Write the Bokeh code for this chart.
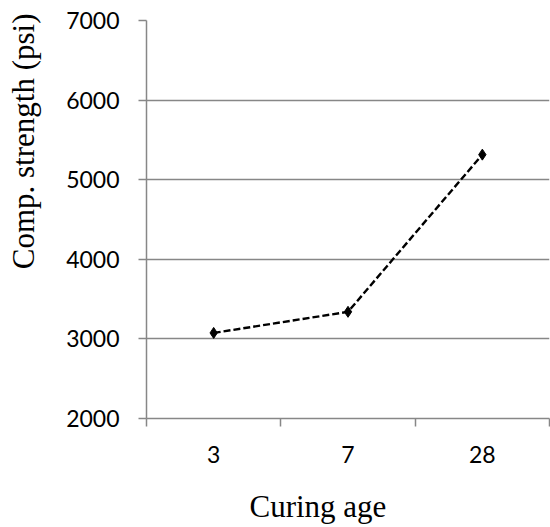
from bokeh.plotting import figure
from bokeh.models import Range1d, FixedTicker, Title
from bokeh.embed import file_html
from bokeh.resources import INLINE

categories = ["3", "7", "28"]
strength = [3075, 3340, 5315]
y_ticks = [2000, 3000, 4000, 5000, 6000, 7000]

xs = [i + 0.5 for i in range(len(categories))]

p = figure(width=550, height=527, output_backend="svg", toolbar_location=None,
           x_range=Range1d(0, len(categories)), y_range=Range1d(2000, 7000),
           min_border_left=146, min_border_right=1, min_border_top=20, min_border_bottom=109)
p.outline_line_color = None
p.background_fill_color = "white"
p.border_fill_color = "white"

grey = "#878787"
# x axis
p.xaxis.ticker = FixedTicker(ticks=xs, minor_ticks=list(range(len(categories) + 1)))
p.xaxis.major_label_overrides = {x: c for x, c in zip(xs, categories)}
p.xaxis.major_tick_line_color = None
p.xaxis.major_tick_out = 8
p.xaxis.major_tick_in = 0
p.xaxis.minor_tick_line_color = grey
p.xaxis.minor_tick_line_width = 1.5
p.xaxis.minor_tick_out = 8
p.xaxis.minor_tick_in = 0
p.xaxis.major_label_standoff = 19
# y axis
p.yaxis.ticker = FixedTicker(ticks=y_ticks, minor_ticks=[])
p.yaxis.major_tick_out = 8
p.yaxis.major_tick_in = 0
p.yaxis.major_tick_line_color = grey
p.yaxis.major_tick_line_width = 1.5
p.yaxis.major_label_standoff = 19
for ax in (p.xaxis, p.yaxis):
    ax.axis_line_color = grey
    ax.axis_line_width = 1.5
    ax.major_label_text_font = "Lato"
    ax.major_label_text_font_size = "23px"
    ax.major_label_text_color = "black"
    # blank spacer between tick labels and the title
    ax.axis_label = " "
    ax.axis_label_text_font_size = "12px"
    ax.axis_label_standoff = 4

p.xgrid.grid_line_color = None
p.ygrid.ticker = FixedTicker(ticks=y_ticks)
p.ygrid.grid_line_color = grey
p.ygrid.grid_line_width = 1.5

p.line(xs, strength, line_color="black", line_width=2.4, line_dash="7 3")
p.scatter(xs, strength, marker="diamond", size=11, fill_color="black", line_color="black")

ytitle = Title(text="Comp. strength (psi)", align="right", offset=-7, standoff=4,
               vertical_align="bottom",
               text_font="Liberation Serif", text_font_size="31px", text_font_style="normal",
               text_color="black")
xtitle = Title(text="Curing age", align="left", offset=103, standoff=0,
               vertical_align="bottom",
               text_font="Liberation Serif", text_font_size="31px", text_font_style="normal",
               text_color="black")
p.add_layout(ytitle, "left")
p.add_layout(xtitle, "below")

open("out.html", "w").write(file_html(p, INLINE))
